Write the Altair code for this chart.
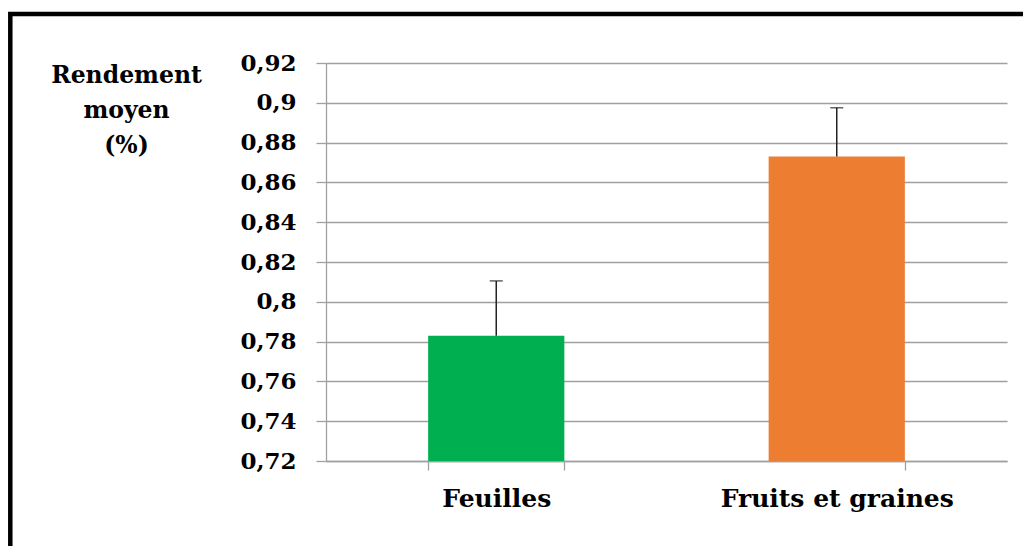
import altair as alt
import pandas as pd

categories = ["Feuilles", "Fruits et graines"]
means = [0.783, 0.873]
upper = [0.8105, 0.8975]
colors = ["#00B050", "#ED7D31"]
y_ticks = [0.72, 0.74, 0.76, 0.78, 0.80, 0.82, 0.84, 0.86, 0.88, 0.90, 0.92]
y_base = 0.72

df = pd.DataFrame({"cat": categories, "mean": means, "upper": upper})

FONT = "DejaVu Serif"
GRID = "#a0a0a0"

x_enc = alt.X(
    "cat:N",
    sort=categories,
    scale=alt.Scale(paddingInner=0.6, paddingOuter=0.3),
    axis=alt.Axis(
        title=None, labelAngle=0, tickBand="extent", labelFont=FONT,
        labelFontSize=25, labelFontWeight="bold", labelColor="black",
        labelPadding=36, labelBaseline="alphabetic", labelLimit=500, labelOverlap=False,
        tickSize=9, tickColor=GRID,
        domainColor=GRID, domainWidth=1.3, tickWidth=1.3, grid=False,
    ),
)

y_scale = alt.Scale(domain=[0.72, 0.92], nice=False, zero=False)

bars = alt.Chart(df).mark_bar().encode(
    x=x_enc,
    y=alt.Y(
        "mean:Q",
        scale=y_scale,
        axis=alt.Axis(
            values=y_ticks, tickCount=20,
            labelExpr="replace(format(datum.value, '.2~f'), '.', ',')",
            labelFont=FONT, labelFontSize=23, labelFontWeight="bold",
            labelColor="black", labelPadding=20, labelOverlap=False, labelLimit=500,
            tickSize=10, tickColor=GRID, tickWidth=1.3,
            domainColor=GRID, domainWidth=1.3,
            grid=True, gridColor=GRID, gridWidth=1.3,
            title=["Rendement", "moyen", "(%)"],
            titleAngle=0, titleAlign="center", titleBaseline="alphabetic",
            titleX=-200, titleY=19, titleLineHeight=35, titleLimit=500,
            titleFont=FONT, titleFontSize=23.5, titleFontWeight="bold",
            titleColor="black",
        ),
    ),
    y2=alt.datum(y_base),
    color=alt.Color("cat:N", scale=alt.Scale(domain=categories, range=colors), legend=None),
)

err = alt.Chart(df).mark_rule(color="#222222", strokeWidth=1.5).encode(
    x=alt.X("cat:N", sort=categories),
    y=alt.Y("mean:Q", scale=y_scale),
    y2="upper:Q",
)

caps = alt.Chart(df).mark_tick(color="#222222", thickness=1.5, size=13, orient="horizontal").encode(
    x=alt.X("cat:N", sort=categories),
    y=alt.Y("upper:Q", scale=y_scale),
)

frame = alt.Chart(alt.Data(values=[{"a": 1}])).mark_rect(
    filled=False, stroke="black", strokeWidth=4.5
).encode(
    x=alt.value(-315.7), x2=alt.value(760),
    y=alt.value(-49), y2=alt.value(700),
)

chart = alt.layer(bars, err, caps, frame).properties(
    width=681, height=398,
    autosize=alt.AutoSizeParams(type="none"),
    padding={"left": 318, "top": 55, "right": 16, "bottom": 85},
).configure_view(stroke=None)

chart.save("out.html", embed_options={"renderer": "svg", "actions": False})
